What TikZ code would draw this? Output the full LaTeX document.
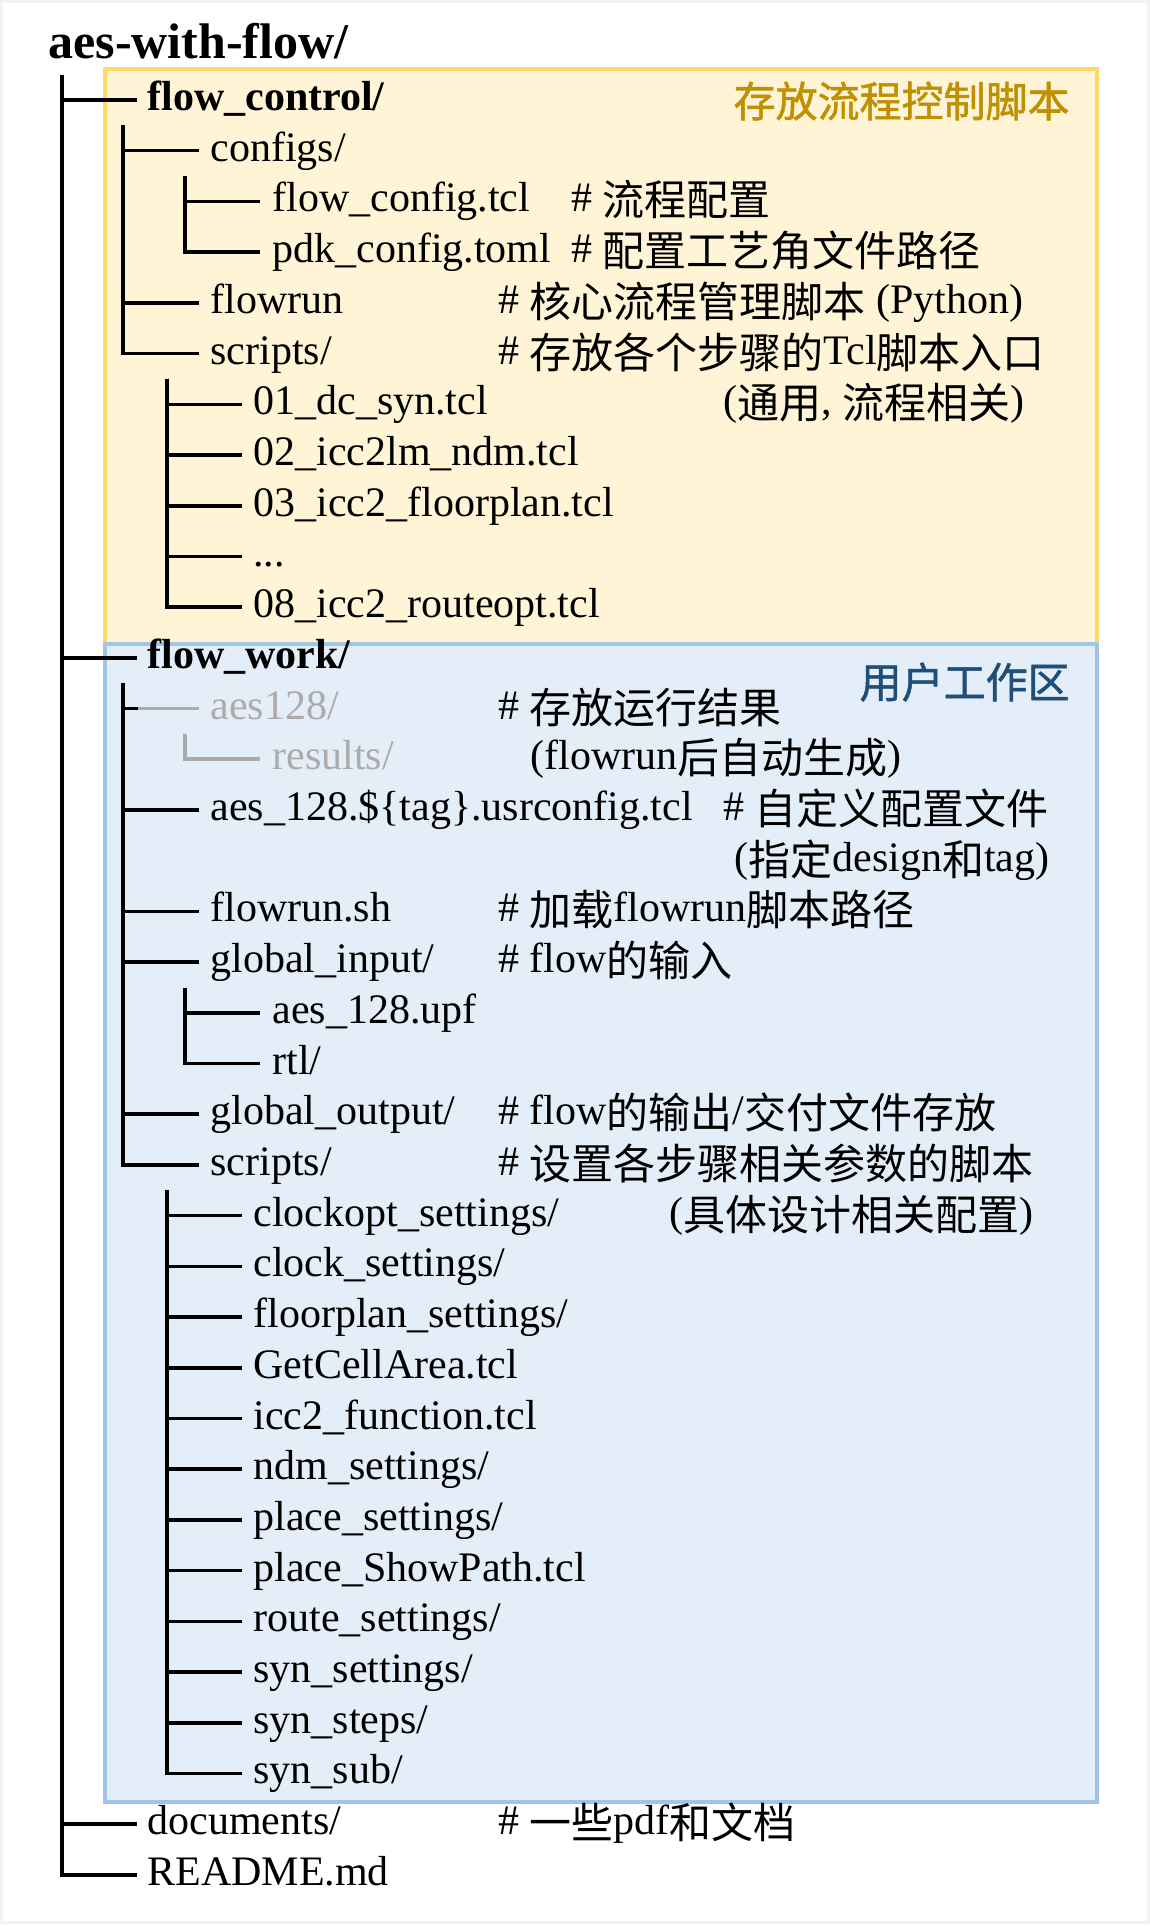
\documentclass[tikz,border=0pt]{standalone}
\usepackage{fontspec}
\setmainfont{Liberation Serif}
\newfontfamily\cjk{Noto Sans CJK SC}
\newfontfamily\cjklab[FakeBold=1.2]{Noto Sans CJK SC}
\newcommand\zh[1]{\raisebox{-2pt}{\cjk #1}}
\definecolor{yfill}{HTML}{FFF4D6}
\definecolor{yborder}{HTML}{FFD966}
\definecolor{ylabel}{HTML}{BF9000}
\definecolor{bfill}{HTML}{E4EEF8}
\definecolor{bborder}{HTML}{9FC5E8}
\definecolor{blabel}{HTML}{1F4E79}
\definecolor{graytx}{HTML}{AEAAAA}
\definecolor{framegray}{HTML}{F2F2F2}
\tikzset{
  tree/.style={line width=1.8pt, draw=black},
  grayline/.style={line width=1.8pt, draw=graytx},
  item/.style={anchor=west, inner sep=0pt, text height=15pt, text depth=4.5pt,
    font=\fontsize{21pt}{25pt}\selectfont},
  bolditem/.style={item, font=\fontsize{21pt}{25pt}\selectfont\bfseries},
  grayitem/.style={item, text=graytx},
  cmt/.style={item},
  boxlabel/.style={anchor=base east, inner sep=0pt, font=\cjklab\fontsize{21pt}{25pt}\selectfont},
}
\begin{document}
\begin{tikzpicture}[x=0.5pt,y=-0.5pt]
\useasboundingbox (0,0) rectangle (1150,1926);
\draw[line width=1.5pt, draw=framegray] (1.5,1.5) rectangle (1148,1922);
% boxes
\draw[line width=2pt, draw=yborder, fill=yfill] (105,69) rectangle (1097,646);
\draw[line width=2pt, draw=bborder, fill=bfill] (105,643.5) rectangle (1097,1802);
\node[boxlabel, text=ylabel] (ylab) at (1070,117) {存放流程控制脚本};
\node[boxlabel, text=blabel] (blab) at (1070,698) {用户工作区};
% title
\node[anchor=base west, inner sep=0pt, font=\fontsize{25pt}{30pt}\selectfont\bfseries] (root) at (48,59) {aes-with-flow/};
\coordinate (t0) at (62,75);
% level 1
\node[bolditem] (fc) at (147,100) {flow\_control/};
\node[bolditem] (fw) at (147,657.8) {flow\_work/};
\node[item] (doc) at (147,1824.1) {documents/};
\node[item] (readme) at (147,1874.9) {README.md};
% flow_control
\coordinate (c0) at (123,125);
\node[item] (configs) at (210,150.7) {configs/};
\node[item] (flowrun) at (210,302.8) {flowrun};
\node[item] (scripta) at (210,353.6) {scripts/};
\coordinate (c1) at (185,176);
\node[item] (flowcfg) at (272,201.4) {flow\_config.tcl};
\node[item] (pdkcfg) at (272,252.1) {pdk\_config.toml};
\coordinate (c2) at (167,378.5);
\node[item] (s01) at (253,404.3) {01\_dc\_syn.tcl};
\node[item] (s02) at (253,455.0) {02\_icc2lm\_ndm.tcl};
\node[item] (s03) at (253,505.7) {03\_icc2\_floorplan.tcl};
\node[item] (sdots) at (253,556.4) {...};
\node[item] (s08) at (253,607.1) {08\_icc2\_routeopt.tcl};
% flow_work
\coordinate (w0) at (123,683);
\node[grayitem] (aes128) at (210,708.5) {aes128/};
\coordinate (w1) at (185,733.5);
\node[grayitem] (results) at (272,759.2) {results/};
\node[item] (usrcfg) at (210,809.9) {aes\_128.\$\{tag\}.usrconfig.tcl};
\node[item] (flowsh) at (210,911.4) {flowrun.sh};
\node[item] (gin) at (210,962.1) {global\_input/};
\coordinate (w2) at (185,987.5);
\node[item] (upf) at (272,1012.8) {aes\_128.upf};
\node[item] (rtl) at (272,1063.5) {rtl/};
\node[item] (gout) at (210,1114.2) {global\_output/};
\node[item] (scriptb) at (210,1164.9) {scripts/};
\coordinate (w3) at (167,1190.3);
\node[item] (k1) at (253,1215.6) {clockopt\_settings/};
\node[item] (k2) at (253,1266.3) {clock\_settings/};
\node[item] (k3) at (253,1317.0) {floorplan\_settings/};
\node[item] (k4) at (253,1367.8) {GetCellArea.tcl};
\node[item] (k5) at (253,1418.5) {icc2\_function.tcl};
\node[item] (k6) at (253,1469.2) {ndm\_settings/};
\node[item] (k7) at (253,1519.9) {place\_settings/};
\node[item] (k8) at (253,1570.6) {place\_ShowPath.tcl};
\node[item] (k9) at (253,1621.3) {route\_settings/};
\node[item] (k10) at (253,1672.0) {syn\_settings/};
\node[item] (k11) at (253,1722.7) {syn\_steps/};
\node[item] (k12) at (253,1773.4) {syn\_sub/};
% comments
\node[cmt] (m1) at (571,201.4) {\# \zh{流程配置}};
\node[cmt] (m2) at (571,252.1) {\# \zh{配置工艺角文件路径}};
\node[cmt] (m3) at (498,302.8) {\# \zh{核心流程管理脚本} (Python)};
\node[cmt] (m4) at (498,353.6) {\# \zh{存放各个步骤的}Tcl\zh{脚本入口}};
\node[cmt] (m5) at (723,404.3) {(\zh{通用}, \zh{流程相关})};
\node[cmt] (m6) at (498,708.5) {\# \zh{存放运行结果}};
\node[cmt] (m7) at (530,759.2) {(flowrun\zh{后自动生成})};
\node[cmt] (m8) at (723,809.9) {\# \zh{自定义配置文件}};
\node[cmt] (m9) at (734,860.7) {(\zh{指定}design\zh{和}tag)};
\node[cmt] (m10) at (498,911.4) {\# \zh{加载}flowrun\zh{脚本路径}};
\node[cmt] (m11) at (498,962.1) {\# flow\zh{的输入}};
\node[cmt] (m12) at (498,1114.2) {\# flow\zh{的输出}/\zh{交付文件存放}};
\node[cmt] (m13) at (498,1164.9) {\# \zh{设置各步骤相关参数的脚本}};
\node[cmt] (m14) at (669,1215.6) {(\zh{具体设计相关配置})};
\node[cmt] (m15) at (498,1824.1) {\# \zh{一些}pdf\zh{和文档}};
% connectors
\foreach \n in {fc,fw,doc,readme} \draw[tree] (t0) |- ([xshift=-5pt]\n.west);
\foreach \n in {configs,flowrun,scripta} \draw[tree] (c0) |- ([xshift=-5.5pt]\n.west);
\foreach \n in {flowcfg,pdkcfg} \draw[tree] (c1) |- ([xshift=-6pt]\n.west);
\foreach \n in {s01,s02,s03,sdots,s08} \draw[tree] (c2) |- ([xshift=-5.5pt]\n.west);
\foreach \n in {usrcfg,flowsh,gin,gout,scriptb} \draw[tree] (w0) |- ([xshift=-5.5pt]\n.west);
\draw[tree] (w0 |- aes128.west) -- ([xshift=-36pt]aes128.west);
\draw[grayline] ([xshift=-36pt]aes128.west) -- ([xshift=-5.5pt]aes128.west);
\draw[grayline] (w1) |- ([xshift=-6pt]results.west);
\foreach \n in {upf,rtl} \draw[tree] (w2) |- ([xshift=-6pt]\n.west);
\foreach \n in {k1,k2,k3,k4,k5,k6,k7,k8,k9,k10,k11,k12} \draw[tree] (w3) |- ([xshift=-5.5pt]\n.west);
\end{tikzpicture}
\end{document}
